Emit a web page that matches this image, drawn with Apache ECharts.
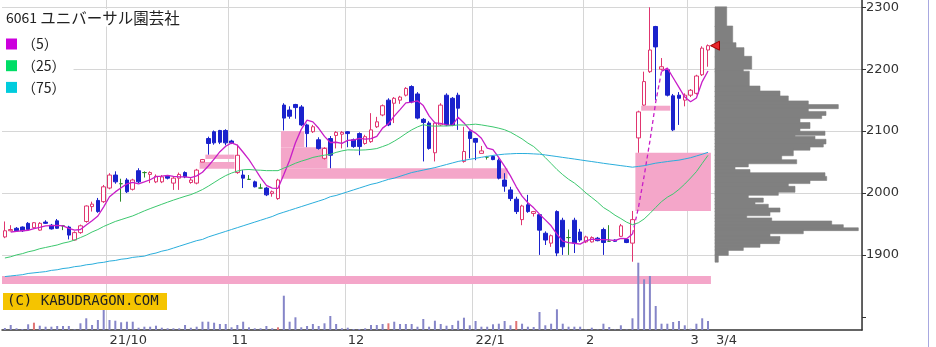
<!DOCTYPE html>
<html><head><meta charset="utf-8">
<script src="https://cdn.jsdelivr.net/npm/echarts@6/dist/echarts.min.js"></script>
<style>html,body{margin:0;padding:0;background:#fff}#c{width:936px;height:347px}</style>
</head><body><div id="c"></div>
<script>
// ---- categories: trading days Sep 3 2021 .. Mar 4 2022
const tradingDays = [
  [9,  [3,6,7,8,9,10,13,14,15,16,17,21,22,24,27,28,29,30]],
  [10, [1,4,5,6,7,8,11,12,13,14,15,18,19,20,21,22,25,26,27,28,29]],
  [11, [1,2,4,5,8,9,10,11,12,15,16,17,18,19,22,24,25,26,29,30]],
  [12, [1,2,3,6,7,8,9,10,13,14,15,16,17,20,21,22,23,24,27,28,29,30]],
  [1,  [4,5,6,7,11,12,13,14,17,18,19,20,21,24,25,26,27,28,31]],
  [2,  [1,2,3,4,7,8,9,10,14,15,16,17,18,21,22,24,25,28]],
  [3,  [1,2,3,4]]
];
const monthTickLabels = ['21/10','11','12','22/1','2','3'];
const lastDayLabel = '3/4';
const emptySlots = 26;

// ---- OHLC
const open = [1929,1939,1943,1945,1951,1944,1940,1953,1948,1955,
1947,1945,1924,1936,1954,1978,1988,1986,2008,2029,
2015,2021,2006,2036,2033,2030,2018,2018,2027,2016,
2024,2033,2017,2016,2050,2088,2099,2101,2101,2084,
2033,2029,2022,2018,2008,2008,1999,1991,2142,2134,
2143,2139,2110,2099,2086,2056,2088,2093,2095,2099,
2086,2096,2080,2083,2107,2126,2150,2145,2150,2158,
2172,2160,2119,2113,2065,2110,2158,2153,2158,2051,
2099,2088,2064,2058,2059,2053,2021,2005,1990,1957,
1981,1967,1965,1935,1919,1970,1956,1928,1956,1937,
1921,1921,1927,1941,1922,1924,1930,1925,1919,2089,
2142,2196,2269,2200,2199,2157,2158,2150,2158,2161,
2191,2231];
const close = [1939,1941,1939,1939,1941,1952,1951,1951,1942,1943,
1947,1932,1936,1947,1979,1982,1970,2010,2029,2018,
2015,2002,2021,2018,2033,2033,2027,2026,2024,2024,
2030,2026,2021,2037,2054,2080,2081,2082,2081,2081,
2061,2024,2022,2010,2008,1997,2002,2021,2121,2124,
2138,2110,2096,2107,2072,2072,2061,2098,2098,2096,
2075,2075,2091,2102,2115,2141,2110,2153,2155,2169,
2147,2121,2114,2072,2113,2142,2110,2110,2137,2067,
2088,2082,2068,2058,2054,2024,2011,1991,1970,1979,
1970,1970,1940,1924,1931,1903,1913,1928,1919,1924,
1929,1928,1923,1920,1922,1922,1947,1920,1957,2131,
2180,2231,2236,2204,2158,2102,2153,2158,2166,2189,
2234,2238];
const low = [1927,1938,1937,1937,1940,1942,1939,1950,1941,1942,
1940,1925,1923,1934,1952,1970,1968,1984,2006,2015,
1986,2000,2004,2016,2025,2016,2016,2016,2022,2005,
2005,2024,2015,2014,2050,2062,2078,2079,2077,2079,
2031,2008,2021,2009,2007,1995,1994,1989,2101,2120,
2120,2108,2074,2097,2070,2054,2040,2072,2072,2074,
2073,2061,2078,2081,2105,2124,2108,2113,2144,2156,
2145,2119,2051,2070,2051,2108,2108,2108,2102,2049,
2056,2053,2064,2054,2053,2022,2002,1987,1966,1948,
1968,1962,1900,1916,1913,1898,1900,1900,1903,1921,
1919,1920,1922,1900,1921,1921,1929,1919,1889,2065,
2141,2194,2150,2198,2156,2100,2110,2140,2155,2159,
2189,2204];
const high = [1954,1948,1945,1946,1953,1953,1953,1956,1950,1958,
1948,1947,1938,1949,1980,1986,1992,2013,2032,2035,
2023,2024,2023,2040,2035,2035,2030,2029,2029,2026,
2033,2035,2024,2039,2055,2091,2101,2102,2103,2086,
2078,2037,2029,2020,2015,2010,2004,2023,2145,2140,
2144,2142,2112,2110,2090,2074,2092,2100,2100,2100,
2088,2098,2094,2129,2123,2143,2153,2155,2157,2171,
2174,2163,2121,2116,2115,2145,2161,2155,2162,2107,
2101,2089,2076,2060,2060,2056,2032,2010,1994,1981,
1997,1971,1966,1938,1933,1972,1960,1941,1960,1942,
1931,1930,1929,1944,1948,1925,1950,1927,1971,2133,
2196,2300,2270,2218,2202,2160,2163,2161,2168,2191,
2237,2240];

// ---- moving averages
const ma5 = [null,1937,1938,1939,1939.8,1942.4,1944.4,1946.8,1947.4,1947.8,
1946.8,1943,1940,1941,1948.2,1955.2,1962.8,1977.6,1994,2001.8,
2008.4,2014.8,2017,2014.8,2017.8,2021.4,2026.4,2027.4,2028.6,2026.8,
2026.2,2026,2025,2027.6,2033.6,2043.6,2054.6,2066.8,2075.6,2081,
2077.2,2065.8,2053.8,2039.6,2025,2012.2,2007.8,2007.6,2029.8,2053,
2081.2,2102.8,2117.8,2115,2104.6,2091.4,2081.6,2082,2080.2,2085,
2085.6,2088.4,2087,2087.8,2091.6,2104.8,2111.8,2124.2,2134.8,2145.6,
2146.8,2149,2141.2,2124.6,2113.4,2112.4,2110.2,2109.4,2122.4,2113.2,
2102.4,2096.8,2088.4,2072.6,2070,2057.2,2043,2027.6,2010,1995,
1984.2,1976,1965.8,1956.6,1947,1933.6,1922.2,1919.8,1918.8,1917.4,
1922.6,1925.6,1924.6,1924.8,1924.4,1923,1926.8,1926.2,1933.6,1975.4,
2027,2083.8,2147,2196.4,2201.8,2186.2,2170.6,2155,2147.4,2153.6,
2180,2197];
const ma25 = [1895,1897,1900,1902,1905,1907,1910,1912,1914,1916,
1919,1921,1924,1928,1932,1937,1941,1946,1950,1954,
1957,1960,1963,1967,1971.1,1974.8,1978.3,1981.8,1985.2,1988.5,
1991.6,1994.6,1997.4,2001.2,2005.6,2011.0,2016.9,2022.8,2028.1,2032.2,
2035.4,2037.5,2038.0,2037.2,2036.8,2036.1,2036.1,2036.1,2040.2,2043.9,
2048.1,2051.4,2054.2,2057.5,2059.4,2061.1,2062.5,2065.6,2068.0,2069.7,
2069.5,2069.3,2069.6,2070.5,2071.8,2075.0,2078.5,2083.7,2089.5,2096.0,
2102.0,2106.7,2110.4,2108.5,2108.0,2108.2,2108.2,2108.8,2110.0,2109.8,
2110.4,2111.2,2110.0,2108.4,2106.8,2104.7,2102.2,2098.2,2092.9,2087.4,
2080.6,2075.0,2066.5,2057.2,2047.7,2038.0,2029.6,2022.2,2016.1,2008.5,
2000.0,1992.7,1985.2,1976.6,1970.8,1964.1,1958.7,1952.8,1948.8,1951.8,
1958.0,1966.9,1976.7,1986.0,1993.2,1998.5,2005.8,2014.5,2024.2,2034.5,
2047.8,2060.8];
const ma75 = [1865,1866,1867,1868,1870,1871,1872,1873,1875,1876,
1878,1879,1881,1882,1884,1885,1887,1888,1890,1891,
1893,1894,1896,1897,1898,1901,1903,1906,1908,1911,
1914,1917,1920,1923,1925,1929,1932,1935,1938,1941,
1944,1947,1950,1953,1956,1959,1962,1966,1969,1972,
1975,1978,1981,1984,1987,1990,1994,1996,1999,2002,
2005,2008,2011,2014,2016,2019,2022,2024,2027,2030,
2033,2035,2037,2039,2041,2043.5,2046,2048.5,2051,2052.7,
2054.4,2056,2057.7,2059.2,2060.7,2061.8,2062.8,2063.3,2063.8,2063.8,
2063.7,2063.2,2062.7,2061.5,2060.2,2058.9,2057.5,2056.2,2054.9,2053.5,
2052.1,2050.8,2049.4,2048,2046.7,2045.5,2044.2,2043,2041.7,2042.9,
2044.1,2046.2,2048.2,2049.5,2050.8,2052,2053.1,2055,2057,2059.8,
2062.6,2065.7];
const ma5DashedFrom = 108, ma5DashedTo = 113;

// ---- volume (thousand shares)
const volume = [2,5,1.7,1,5.7,7.3,4.3,3.3,3.3,4,
4,4,0.7,6.7,11.7,5,10,20,10,9.3,
7.7,8.3,8.3,2.3,3.3,3.3,4.3,2.3,1.7,1.7,
1.7,5,2.3,3.3,8.3,8.3,7.3,6,6,2.7,
5,8.3,2.7,1.7,1.7,4,1.7,2.7,34.3,8.3,
12.7,2.7,4,6,4,6.7,14,6,1.7,2.3,
1,1,1.7,5,5,6,6.7,8.3,6,6,
6,3.3,11,3.3,9.3,6,4.3,5,9.3,12.3,
4.7,9,3.3,3.3,5.7,6.3,9,4.7,9,6.3,
3.3,3,18,4.7,6.3,20.7,6.3,3.3,3.3,3.3,
0.5,2.3,0.5,6.3,3,0.5,4.7,0.5,11.7,67.3,
50.7,54,24,6.3,6.3,8,9,4.7,1.3,6.3,
11.7,9];
const redVolumeDays = [5,47,66,88];

// ---- price-volume profile: [low price, high price, volume]
const profLow  = [2269,2242,2234,2220,2201,2196,2172,2164,2156,2148,2142,2137,2131,2126,2121,2113,2105,2099,2094,2091,2086,2080,2075,2070,2061,2053,2048,2043,2037,2032,2026,2021,2016,2010,2002,1997,1991,1986,1981,1975,1970,1964,1959,1954,1948,1943,1940,1935,1929,1924,1919,1913,1908,1900,1889];
const profHigh = [2300,2269,2242,2234,2220,2201,2196,2172,2164,2156,2148,2142,2137,2131,2126,2121,2113,2105,2099,2094,2091,2086,2080,2075,2070,2061,2053,2048,2043,2037,2032,2026,2021,2016,2010,2002,1997,1991,1986,1981,1975,1970,1964,1959,1954,1948,1943,1940,1935,1929,1924,1919,1913,1908,1900];
const profVol  = [11.7,17.7,21,29,36.7,28.3,34.3,45,65,73.3,93.3,123.3,93.3,111,106.7,85,95,85,110,80,100,111,108.3,95,78.3,66.7,81.7,33.3,20,35,110,111.7,95,73.3,80,63.3,33.3,48.3,40,53.3,65,55,31.7,56.7,116.7,128.3,143.3,88.3,55,65,64.3,45,28.3,13.3,3.3];

// ---- unfilled gap zones: [first day, last day, low, high]
const gapStart = [0, 34, 35, 48, 48, 48, 109, 110];
const gapEnd   = [121, 39, 39, 51, 55, 86, 121, 114];
const gapLow   = [1853, 2039, 2055, 2074, 2040, 2023, 1971, 2133];
const gapHigh  = [1866, 2050, 2062, 2100, 2074, 2040, 2065, 2141];

// ---- build
const dates = [];
const monthStart = [];
tradingDays.forEach(([m, days], k) => {
  if (k > 0) monthStart.push(dates.length);
  days.forEach(d => dates.push(m + '/' + d));
});
const categories = dates.concat(Array.from({length: emptySlots}, (_, k) => '+' + (k + 1)));
const labelMap = {};
monthStart.forEach((idx, k) => { labelMap[idx] = monthTickLabels[k]; });
const lastIdx = dates.length - 1;
labelMap[lastIdx] = '{last|' + lastDayLabel + '}';

const ohlc = open.map((o, i) => [o, close[i], low[i], high[i]]);
const ma5Solid = ma5.map((v, i) => (i > ma5DashedFrom && i < ma5DashedTo) ? null : v);
const ma5Dash = ma5.map((v, i) => (i >= ma5DashedFrom && i <= ma5DashedTo) ? v : null);
const gapData = gapStart.map((s, i) => [s, gapEnd[i], gapLow[i], gapHigh[i]]);
const profData = profLow.map((l, i) => [l, profHigh[i], profVol[i]]);

const GRID = '#d6d6d6';
const AX = '#333';
const labelFont = {color: '#333', fontFamily: 'DejaVu Sans', fontSize: 13};

const chart = echarts.init(document.getElementById('c'), null, {renderer: 'canvas'});
chart.setOption({
  animation: false,
  backgroundColor: '#fff',
  title: {
    text: '{a|6061} {b|ユニバーサル園芸社}', left: 0, top: 9, padding: [1, 4, 1, 6],
    backgroundColor: '#fff',
    textStyle: {fontFamily: 'Noto Sans CJK JP', fontSize: 14, fontWeight: 'normal', color: '#222',
      rich: {
        a: {fontFamily: 'Noto Sans CJK JP', fontSize: 14, color: '#222'},
        b: {fontFamily: 'Noto Sans CJK JP', fontSize: 15.5, color: '#222'}
      }}
  },
  legend: {
    data: ['（5）', '（25）', '（75）'], orient: 'vertical', left: 0, top: 33,
    padding: [4, 8, 5, 6], itemGap: 7.7, itemWidth: 11, itemHeight: 11, icon: 'rect',
    backgroundColor: '#fff', selectedMode: false,
    textStyle: {fontFamily: 'Noto Sans CJK JP', fontSize: 14, color: '#222'}
  },
  grid: [
    {left: 2, right: 74, top: 0, bottom: 17, outerBoundsMode: 'none'},
    {left: 2, right: 74, top: 7.3, height: 309.5, outerBoundsMode: 'none'},
    {left: 2, right: 74, top: 260, bottom: 17, outerBoundsMode: 'none'},
    {left: 715, right: 74, top: 7.3, height: 309.5, outerBoundsMode: 'none'}
  ],
  xAxis: [
    {type: 'category', gridIndex: 0, data: categories, boundaryGap: true,
     axisLine: {show: true, lineStyle: {color: AX, width: 1.5}},
     axisTick: {show: false},
     splitLine: {show: true, interval: (i) => monthStart.includes(i), lineStyle: {color: GRID, width: 1}},
     axisLabel: Object.assign({show: true, interval: (i) => labelMap[i] !== undefined,
       formatter: (v, i) => labelMap[i] || '', align: 'left', margin: 4,
       rich: {last: {padding: [0, 0, 0, 8], color: '#333', fontFamily: 'DejaVu Sans', fontSize: 13}}}, labelFont)},
    {type: 'category', gridIndex: 1, data: categories, show: false},
    {type: 'category', gridIndex: 2, data: categories, show: false},
    {type: 'value', gridIndex: 3, min: 0, max: 147, show: false}
  ],
  yAxis: [
    {type: 'value', gridIndex: 0, position: 'right', min: 0, max: 1,
     axisLine: {show: true, lineStyle: {color: AX, width: 1.5}},
     axisTick: {show: false}, axisLabel: {show: false}, splitLine: {show: false}},
    {type: 'value', gridIndex: 1, position: 'right', min: 1800, max: 2300, interval: 100,
     axisLine: {show: false},
     axisTick: {show: true, length: 4, lineStyle: {color: AX}},
     axisLabel: Object.assign({formatter: (v) => v >= 1900 ? String(v) : '', margin: 4}, labelFont),
     splitLine: {show: true, lineStyle: {color: ['rgba(0,0,0,0)', GRID, GRID, GRID, GRID, GRID]}}},
    {type: 'value', gridIndex: 2, min: 0, max: 70, show: false},
    {type: 'value', gridIndex: 3, min: 1800, max: 2300, show: false}
  ],
  graphic: [
    {type: 'line', shape: {x1: 928.5, y1: 0, x2: 928.5, y2: 347}, style: {stroke: '#a8a8e0', lineWidth: 1}, z: 100},
    {type: 'rect', shape: {x: 3, y: 293, width: 164, height: 17}, style: {fill: '#f5c400'}, z: 100},
    {type: 'text', style: {x: 7, y: 294, text: '(C) KABUDRAGON.COM', font: '14px "DejaVu Sans Mono"', fill: '#222'}, z: 101}
  ],
  series: [
    {type: 'custom', name: 'gaps', xAxisIndex: 1, yAxisIndex: 1, z: 1, silent: true,
     encode: {x: [0, 1], y: [2, 3]}, data: gapData,
     renderItem: (params, api) => {
       const bw = api.size([1, 0])[0];
       const a = api.coord([api.value(0), api.value(3)]);
       const b = api.coord([api.value(1), api.value(2)]);
       return {type: 'rect', shape: {x: a[0] - bw / 2, y: a[1], width: b[0] - a[0] + bw, height: b[1] - a[1]},
               style: {fill: '#f4a6c9'}};
     }},
    {type: 'bar', name: 'vol', xAxisIndex: 2, yAxisIndex: 2, z: 2, barWidth: 2, data: volume,
     itemStyle: {color: (p) => redVolumeDays.includes(p.dataIndex) ? '#e07474' : '#8585c8'}},
    {type: 'custom', name: 'profile', xAxisIndex: 3, yAxisIndex: 3, z: 2, silent: true,
     encode: {x: 2, y: [0, 1]}, data: profData,
     renderItem: (params, api) => {
       const a = api.coord([0, api.value(1)]);
       const b = api.coord([api.value(2), api.value(0)]);
       return {type: 'rect', shape: {x: a[0], y: a[1] - 0.5, width: b[0] - a[0], height: b[1] - a[1] + 1},
               style: {fill: '#808080', stroke: '#808080', lineWidth: 0.6}};
     }},
    {type: 'candlestick', name: 'price', xAxisIndex: 1, yAxisIndex: 1, z: 3, barWidth: 4, data: ohlc,
     itemStyle: {color: '#ffffff', color0: '#1a22cc', borderColor: '#e0356f', borderColor0: '#1a22cc',
                 borderColorDoji: '#2b8c2b', borderWidth: 1},
     markPoint: {symbol: 'triangle', symbolSize: 9, symbolRotate: 90, symbolOffset: [7, 0],
       label: {show: false}, itemStyle: {color: '#e8262a', borderColor: '#a00000', borderWidth: 1},
       data: [{coord: [dates[lastIdx], close[lastIdx]]}]}},
    {type: 'line', name: '（5）', xAxisIndex: 1, yAxisIndex: 1, z: 4, data: ma5Solid, symbol: 'none',
     itemStyle: {color: '#cc00dd'}, lineStyle: {color: '#c81ec8', width: 1.3}},
    {type: 'line', name: 'ma5dash', xAxisIndex: 1, yAxisIndex: 1, z: 4, data: ma5Dash, symbol: 'none',
     itemStyle: {color: '#cc00dd'}, lineStyle: {color: '#c81ec8', width: 1.3, type: [4, 3]}},
    {type: 'line', name: '（25）', xAxisIndex: 1, yAxisIndex: 1, z: 4, data: ma25, symbol: 'none',
     itemStyle: {color: '#00dd66'}, lineStyle: {color: '#3cc86e', width: 1}},
    {type: 'line', name: '（75）', xAxisIndex: 1, yAxisIndex: 1, z: 4, data: ma75, symbol: 'none',
     itemStyle: {color: '#00ccdd'}, lineStyle: {color: '#2aaedc', width: 1}}
  ]
});
</script></body></html>
